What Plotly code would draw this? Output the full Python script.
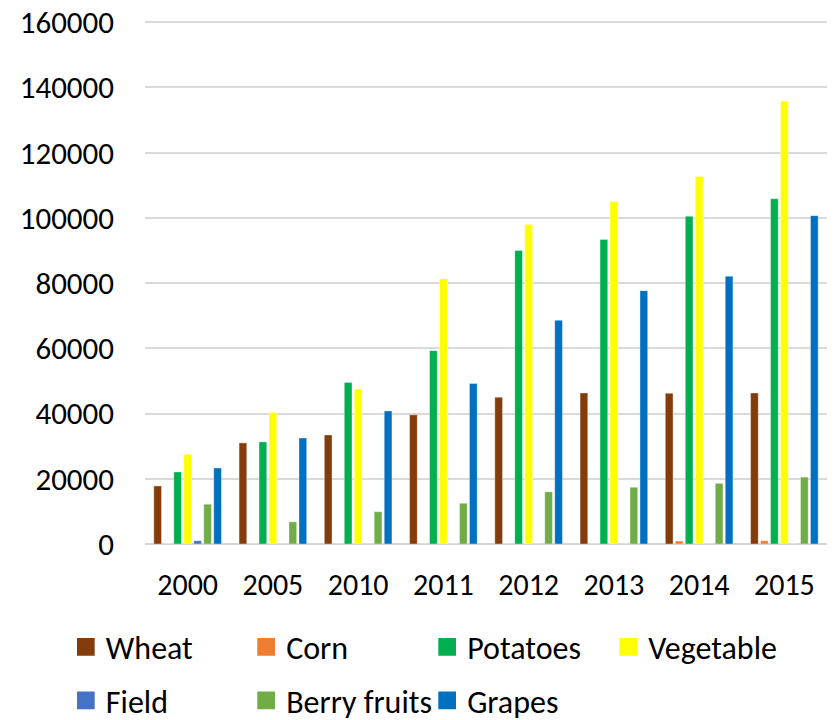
import plotly.graph_objects as go

years = ["2000", "2005", "2010", "2011", "2012", "2013", "2014", "2015"]
wheat = [17800, 31000, 33400, 39600, 45000, 46300, 46200, 46300]
corn = [0, 0, 0, 0, 0, 0, 900, 1000]
potatoes = [22100, 31300, 49500, 59300, 90000, 93400, 100500, 105900]
vegetable = [27500, 40300, 47500, 81300, 98000, 105000, 112700, 135800]
field = [1000, 0, 0, 0, 0, 0, 0, 0]
berry = [12200, 6800, 9900, 12500, 16000, 17400, 18600, 20500]
grapes = [23300, 32500, 40800, 49200, 68600, 77700, 82100, 100700]
y_ticks = [0, 20000, 40000, 60000, 80000, 100000, 120000, 140000, 160000]

series_names = ["Wheat", "Corn", "Potatoes", "Vegetable", "Field", "Berry fruits", "Grapes"]
series_values = [wheat, corn, potatoes, vegetable, field, berry, grapes]
series_colors = ["#843C0C", "#ED7D31", "#00B050", "#FFFF00", "#4472C4", "#70AD47", "#0070C0"]

# legend layout: (marker left px, row center px) per entry
legend_marker_left = [77, 257.3, 438.3, 619.3, 77, 257.3, 438.3]
legend_row_y = [647, 647, 647, 647, 700.5, 700.5, 700.5]

FONT = "Calibri, Carlito, Lato, sans-serif"
W, H = 836, 720
PX_PER_UNIT = 522.3 / 160000
Y_TOP = 161000

fig = go.Figure()
legends = {}
for i, (name, vals, color) in enumerate(zip(series_names, series_values, series_colors)):
    key = "legend" if i == 0 else f"legend{i + 1}"
    fig.add_trace(go.Bar(
        name=name, x=years, y=vals, legendgroup=name, showlegend=False,
        marker=dict(color=color, line=dict(color="rgba(255,255,255,0.6)", width=0.6)),
    ))
    # legend swatch (no data drawn)
    fig.add_trace(go.Scatter(
        name=name, x=[None], y=[None], mode="markers", legendgroup=name,
        legend=key, showlegend=True,
        marker=dict(symbol="square", size=16, color=color, line=dict(color=color, width=1.7)),
    ))
    item_origin = legend_marker_left[i] + 8.85 - 20
    legends[key] = dict(
        orientation="h", xref="container", yref="container",
        x=item_origin / W, y=1 - legend_row_y[i] / H,
        xanchor="left", yanchor="middle",
        font=dict(family=FONT, size=32, color="#000000"),
        bgcolor="rgba(0,0,0,0)", borderwidth=0,
    )

fig.update_layout(
    width=W, height=H,
    paper_bgcolor="white", plot_bgcolor="white",
    margin=dict(l=144.5, r=9, t=22 - (Y_TOP - 160000) * PX_PER_UNIT, b=175.7, autoexpand=False),
    barmode="group", bargap=0.18, bargroupgap=0.23,
    font=dict(family=FONT, size=31, color="#000000"),
    xaxis=dict(
        showgrid=False, showline=False, ticks="", ticklabelstandoff=20,
        tickfont=dict(family=FONT, size=30, color="#000000"),
    ),
    yaxis=dict(
        range=[0, Y_TOP], tickvals=y_ticks,
        ticktext=[str(v) for v in y_ticks],
        showgrid=True, gridcolor="#D9D9D9", gridwidth=1.5,
        zeroline=True, zerolinecolor="#D4D4D4", zerolinewidth=2,
        showline=False, ticks="", ticklabelstandoff=30,
        tickfont=dict(family=FONT, size=31, color="#000000"),
    ),
    **legends,
)

fig.write_html(
    "out.html",
    config={"displayModeBar": False},
    post_script="document.body.style.margin='0';document.body.style.overflow='hidden';",
)
